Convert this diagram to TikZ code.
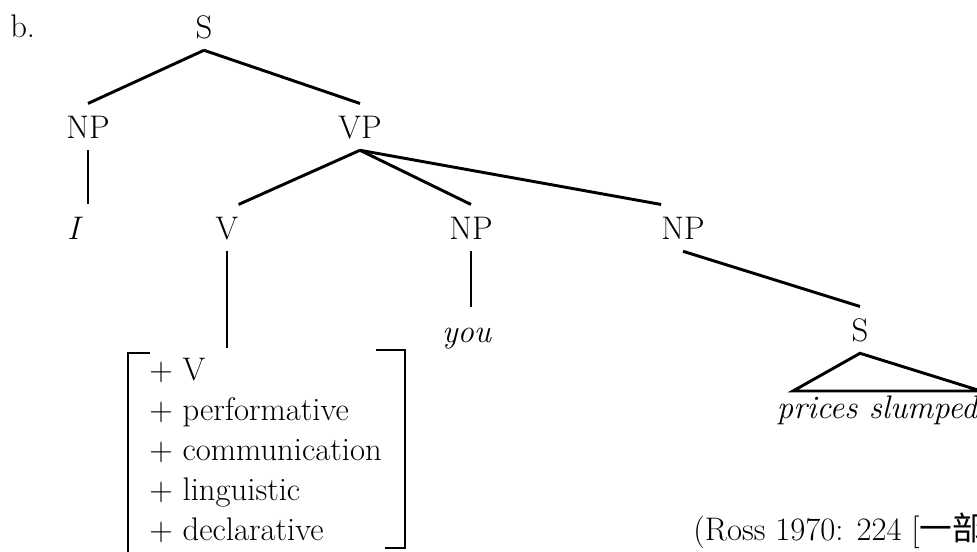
\documentclass[tikz,border=0pt]{standalone}
\usepackage{fontspec}
\newfontfamily\cjkfont{Noto Sans CJK SC}
\def\treesize{\fontsize{24.5}{30}\selectfont}

\begin{document}
\begin{tikzpicture}[x=0.75pt,y=0.75pt,yscale=-1,xscale=1,
	cat/.style={font=\treesize, anchor=base, inner xsep=0pt, inner ysep=9pt, text height=16.7pt, text depth=0pt},
	branch/.style={line width=2.2pt},
	]
	\useasboundingbox (0,0) rectangle (977,551);
	\node [cat, anchor=base west] (ex) at (10,37) {b.};
	% tree labels
	\node [cat] (S) at (204,38) {S};
	\node [cat] (NPa) at (88,138) {NP};
	\node [cat] (VP) at (360,138) {VP};
	\node [cat] (I) at (75,239) {\textit{I}};
	\node [cat] (V) at (227,239) {V};
	\node [cat] (NPb) at (471,239) {NP};
	\node [cat] (NPc) at (683,239) {NP};
	\node [cat] (you) at (467,342) {\textit{you}};
	\node [cat] (Sb) at (860,341) {S};
	\node [cat] (prices) at (878,418) {\textit{prices slumped}};
	\node [font=\treesize, anchor=base west, align=left, inner sep=0pt] (feat) at (149,540) {+ V\\+ performative\\+ communication\\+ linguistic\\+ declarative};
	\node [cat, anchor=base west] (src) at (693,540) {(Ross 1970: 224 [{\cjkfont 一部}};
	\coordinate (ftop) at (266,348);
	\coordinate (triL) at (793,391);
	\coordinate (triR) at (981,391);
	% branches
	\draw [branch] (S.south) -- (NPa.north);
	\draw [branch] (S.south) -- (VP.north);
	\draw [branch] (NPa.south) -- (NPa.south |- I.north);
	\draw [branch] (VP.south) -- (V.north east);
	\draw [branch] (VP.south) -- (NPb.north);
	\draw [branch] (VP.south) -- (NPc.north west);
	\draw [branch] (V.south) -- (V.south |- ftop);
	\draw [branch] (NPb.south) -- (NPb.south |- you.north);
	\draw [branch] (NPc.south) -- (Sb.north);
	\draw [branch] (Sb.south) -- (triL) -- (triR) -- cycle;
	% feature brackets
	\draw [branch] (150,353) -- (128,353) -- (128,560);
	\draw [branch] (376,350) -- (405,350) -- (405,548) -- (385,548);
\end{tikzpicture}
\end{document}
